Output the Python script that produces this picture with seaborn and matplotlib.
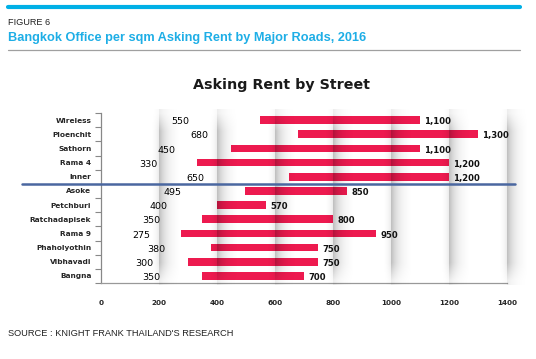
import matplotlib
matplotlib.use("Agg")
import matplotlib.pyplot as plt
import numpy as np
import pandas as pd
import seaborn as sns

# data
streets = ['Wireless', 'Ploenchit', 'Sathorn', 'Rama 4', 'Inner', 'Asoke',
           'Petchburi', 'Ratchadapisek', 'Rama 9', 'Phaholyothin', 'Vibhavadi', 'Bangna']
low_rent = [550, 680, 450, 330, 650, 495, 400, 350, 275, 380, 300, 350]
high_rent = [1100, 1300, 1100, 1200, 1200, 850, 570, 800, 950, 750, 750, 700]
x_ticks = [0, 200, 400, 600, 800, 1000, 1200, 1400]

df = pd.DataFrame({'Street': streets, 'Low': low_rent, 'High': high_rent})

sns.set_style('white')
plt.rcParams['font.family'] = ['DejaVu Sans']

fig = plt.figure(figsize=(5.36, 3.59), dpi=100)
ax = fig.add_axes([0.1884, 0.2117, 0.7575, 0.4735])

# red bar up to the high value, white bar hides the part below the low value
sns.barplot(data=df, x='High', y='Street', color='#ED1A4F', saturation=1,
            width=0.55, linewidth=0, ax=ax, orient='h')
sns.barplot(data=df, x='Low', y='Street', color='white', saturation=1,
            width=0.6, linewidth=0, ax=ax, orient='h')

# soft shadows at each gridline (Excel look)
n = 80
shade_r = np.zeros((20, n, 4))
fade_x = np.exp(-np.linspace(0, 2.3, n)) * np.linspace(1, 0, n) ** 0.5
fade_y = np.ones(20)
fade_y[:3] = np.linspace(0.3, 1, 3)
fade_y[-3:] = np.linspace(1, 0.3, 3)
shade_r[..., 3] = 0.26 * np.outer(fade_y, fade_x)
shade_l = np.zeros((20, 30, 4))
shade_l[..., 3] = 0.08 * np.outer(fade_y, np.linspace(0.0, 1.0, 30) ** 2)
top, bottom = -0.75, len(streets) - 0.35
for g in x_ticks[1:]:
    ax.imshow(shade_r, extent=(g, g + 70, bottom, top),
              aspect='auto', zorder=3, clip_on=False, interpolation='bilinear')
    ax.imshow(shade_l, extent=(g - 30, g, bottom, top),
              aspect='auto', zorder=3, clip_on=False, interpolation='bilinear')
ax.set_xlim(0, 1400)
ax.set_ylim(len(streets) - 0.5, -0.5)

# value labels
for i, (lo, hi) in enumerate(zip(low_rent, high_rent)):
    ax.text(lo / 2, i + 0.12, f'{lo:,}', ha='center', va='center',
            fontsize=6.8, color='black', zorder=5)
    ax.text(hi + 15, i + 0.12, f'{hi:,}', ha='left', va='center',
            fontsize=6.1, fontweight='bold', color='#111111', zorder=5)

# divider between inner and outer roads
ax.axhline(4.5, xmin=-0.194, xmax=1.02, color='#4A67A0', lw=1.8,
           clip_on=False, zorder=6)

ax.set_xlabel('')
ax.set_ylabel('')
ax.set_xticks(x_ticks)
ax.set_xticklabels([str(t) for t in x_ticks], fontsize=5.2, fontweight='bold')
ax.tick_params(axis='x', length=0, pad=12)
ax.set_yticks(range(len(streets)))
ax.set_yticklabels(streets, fontsize=5.3, fontweight='bold')
ax.set_yticks(np.arange(-0.5, len(streets)), minor=True)
ax.tick_params(axis='y', which='major', length=0, pad=7)
ax.tick_params(axis='y', which='minor', length=4, width=0.8, color='#888888',
               direction='out', left=True)

for s in ['top', 'right']:
    ax.spines[s].set_visible(False)
ax.spines['left'].set_color('#888888')
ax.spines['bottom'].set_color('#999999')
ax.spines['left'].set_linewidth(0.9)
ax.spines['bottom'].set_linewidth(0.9)

fig.text(0.525, 0.763, 'Asking Rent by Street', ha='center', va='center',
         fontsize=10.3, fontweight='bold', color='#1A1A1A')

# report header and footer
fig.add_artist(plt.Line2D([0.015, 0.970], [0.980, 0.980], color='#00B0E6', lw=3))
fig.text(0.015, 0.938, 'FIGURE 6', fontsize=6.6, va='center', ha='left',
         family='Liberation Sans', color='#222222')
fig.text(0.015, 0.893, 'Bangkok Office per sqm Asking Rent by Major Roads, 2016',
         fontsize=9.2, fontweight='bold', va='center', ha='left',
         family='Liberation Sans', color='#1EAEE6')
fig.add_artist(plt.Line2D([0.015, 0.970], [0.862, 0.862], color='#A0A0A0', lw=0.9))
fig.text(0.015, 0.070, "SOURCE : KNIGHT FRANK THAILAND'S RESEARCH", fontsize=6.7,
         va='center', ha='left', family='Liberation Sans', color='#222222')

fig.savefig('out.png', dpi=100)
